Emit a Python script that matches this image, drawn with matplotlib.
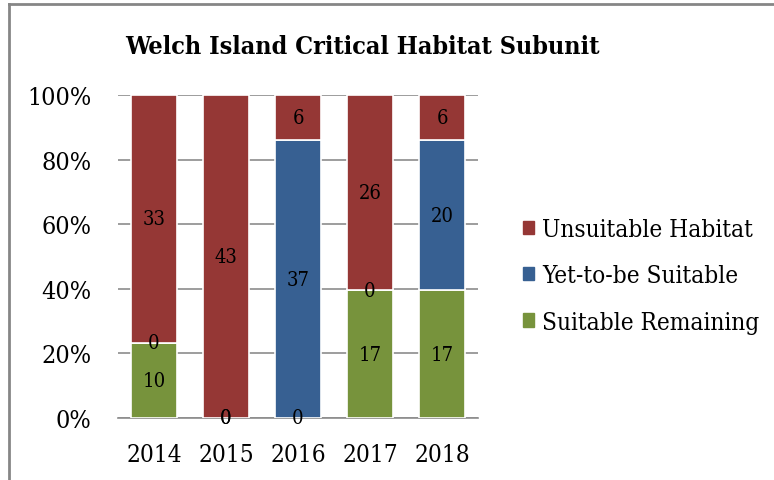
import numpy as np
import matplotlib.pyplot as plt
from matplotlib.lines import Line2D
from matplotlib.patches import Patch

# data
years = ['2014', '2015', '2016', '2017', '2018']
suitable = np.array([10, 0, 0, 17, 17])
yet_to_be = np.array([0, 0, 37, 0, 20])
unsuitable = np.array([33, 43, 6, 26, 6])

series = [
    ('Suitable Remaining', suitable, '#77933c'),
    ('Yet-to-be Suitable', yet_to_be, '#376092'),
    ('Unsuitable Habitat', unsuitable, '#953735'),
]

plt.rcParams['font.family'] = ['DejaVu Serif']
plt.rcParams['font.stretch'] = 'condensed'

fig = plt.figure(figsize=(7.74, 4.81), dpi=100)
ax = fig.add_axes([118 / 774, 62 / 481, 360 / 774, 323 / 481])

total = suitable + yet_to_be + unsuitable
x = np.arange(len(years))
bottom = np.zeros(len(years))
for name, vals, col in series:
    share = vals / total * 100
    ax.bar(x, share, 0.63, bottom=bottom, color=col, edgecolor='white',
           linewidth=1.2, zorder=3, label=name)
    for xi, b, s, v in zip(x, bottom, share, vals):
        ax.text(xi, b + s / 2, str(v), ha='center', va='center',
                fontsize=14.5, color='black', zorder=4)
    bottom += share

ax.set_xlim(-0.5, len(years) - 0.5)
ax.set_ylim(0, 100)
ax.set_yticks(np.arange(0, 101, 20))
ax.set_yticklabels([f'{v}%' for v in range(0, 101, 20)], fontsize=18)
ax.set_xticks(x)
ax.set_xticklabels(years, fontsize=17.5)
ax.tick_params(axis='y', length=0, pad=19)
ax.tick_params(axis='x', length=0, pad=18)
ax.yaxis.grid(True, color='#8c8c8c', linewidth=1.2, zorder=0)
for s in ['top', 'right', 'left']:
    ax.spines[s].set_visible(False)
ax.spines['bottom'].set_color('#8c8c8c')
ax.spines['bottom'].set_linewidth(1.2)

fig.text(0.5 * (128 + 597) / 774, 1 - 47 / 481, 'Welch Island Critical Habitat Subunit',
         ha='center', va='center', fontsize=18, fontweight='bold')

handles = [Patch(color=c) for _, _, c in series[::-1]]
labels = [n for n, _, _ in series[::-1]]
fig.legend(handles, labels, loc='center left', bbox_to_anchor=(501 / 774, 1 - 277 / 481),
           frameon=False, fontsize=17.5, handlelength=0.46, handleheight=0.46,
           handletextpad=0.34, labelspacing=0.95)

# outer chart frame (only top and left edges are visible)
fig.add_artist(Line2D([8.5 / 774, 8.5 / 774], [0, 1 - 4.5 / 481],
                      transform=fig.transFigure, color='#868686', linewidth=2))
fig.add_artist(Line2D([8.5 / 774, 773 / 774], [1 - 4.5 / 481, 1 - 4.5 / 481],
                      transform=fig.transFigure, color='#868686', linewidth=2))

fig.savefig('out.png', dpi=100)
